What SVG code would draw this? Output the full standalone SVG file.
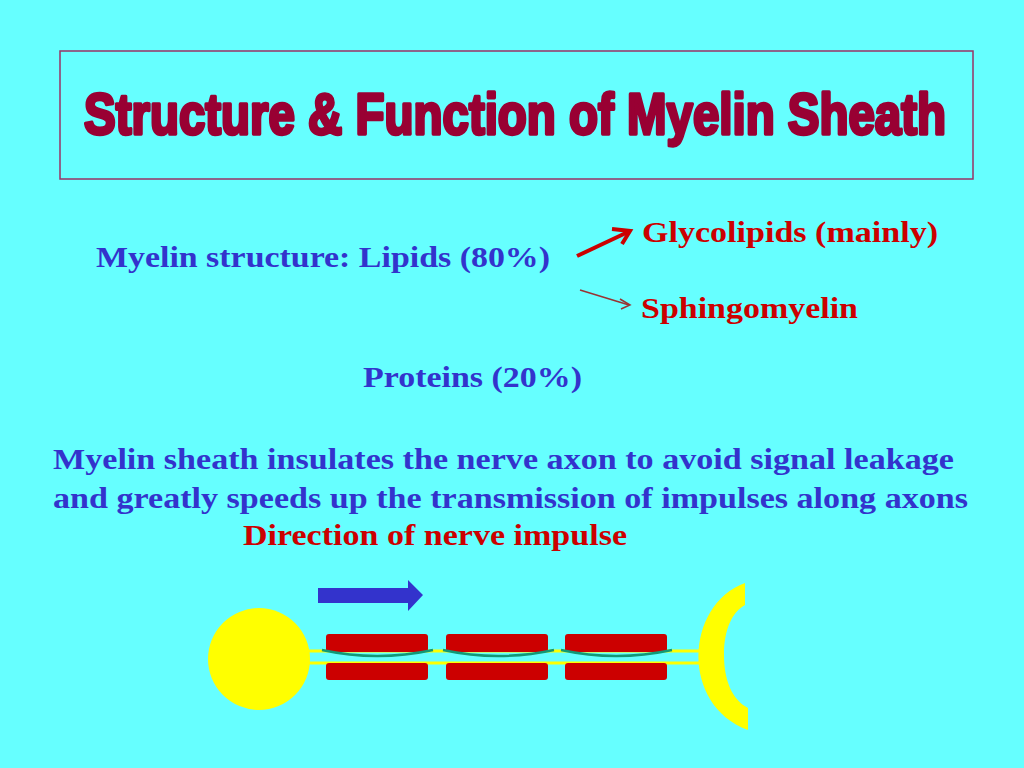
<svg xmlns="http://www.w3.org/2000/svg" width="1024" height="768" viewBox="0 0 1024 768">
<style>
.t{font-family:"Liberation Serif",serif;font-weight:bold;font-size:29px}
.b{fill:#3333cc}.r{fill:#cc0000}
</style>
<rect width="1024" height="768" fill="#66ffff"/>
<g id="title">
<rect x="60" y="51" width="913" height="128" fill="none" stroke="#993366" stroke-width="1.5"/>
<text x="84" y="134" textLength="862" lengthAdjust="spacingAndGlyphs" font-family="Liberation Sans,sans-serif" font-weight="bold" font-size="58" fill="#990033" stroke="#990033" stroke-width="3.5" stroke-linejoin="round">Structure &amp; Function of Myelin Sheath</text>
</g>
<g id="texts">
<text class="t b" x="96" y="267" textLength="454" lengthAdjust="spacingAndGlyphs">Myelin structure: Lipids (80%)</text>
<text class="t r" x="642" y="242" textLength="296" lengthAdjust="spacingAndGlyphs">Glycolipids (mainly)</text>
<text class="t r" x="641" y="318" textLength="217" lengthAdjust="spacingAndGlyphs">Sphingomyelin</text>
<text class="t b" x="363" y="387" textLength="219" lengthAdjust="spacingAndGlyphs">Proteins (20%)</text>
<text class="t b" x="53" y="469" textLength="901" lengthAdjust="spacingAndGlyphs">Myelin sheath insulates the nerve axon to avoid signal leakage</text>
<text class="t b" x="53" y="508" textLength="915" lengthAdjust="spacingAndGlyphs">and greatly speeds up the transmission of impulses along axons</text>
<text class="t r" x="243" y="545" textLength="384" lengthAdjust="spacingAndGlyphs">Direction of nerve impulse</text>
</g>
<g id="connectors">
<line x1="577" y1="256" x2="628" y2="232" stroke="#cc0000" stroke-width="4"/>
<polyline points="612,229 630,231 622,244" fill="none" stroke="#cc0000" stroke-width="4"/>
<line x1="580" y1="290" x2="629" y2="305" stroke="#993333" stroke-width="1.5"/>
<polyline points="620,299 630,305 621,309" fill="none" stroke="#993333" stroke-width="1.5"/>
</g>
<g id="neuron">
<line x1="300" y1="651" x2="705" y2="651" stroke="#ffff00" stroke-width="3"/>
<line x1="300" y1="663" x2="705" y2="663" stroke="#ffff00" stroke-width="3"/>
<ellipse cx="259" cy="659" rx="51" ry="51" fill="#ffff00"/>
<path d="M745,583 C685,605 680,705 748,730 L748,708 C732,700 724,680 724,655 C724,630 732,612 745,605 Z" fill="#ffff00"/>
<g fill="#cc0000">
<rect x="326" y="634" width="102" height="18" rx="3"/><rect x="326" y="663" width="102" height="17" rx="3"/>
<rect x="446" y="634" width="102" height="18" rx="3"/><rect x="446" y="663" width="102" height="17" rx="3"/>
<rect x="565" y="634" width="102" height="18" rx="3"/><rect x="565" y="663" width="102" height="17" rx="3"/>
</g>
<g fill="none" stroke="#119977" stroke-width="2.5">
<path d="M322,650 Q377,662 433,650"/><path d="M443,650 Q498,662 554,650"/><path d="M561,650 Q616,662 672,650"/>
</g>
<polygon points="318,588 408,588 408,580 423,595 408,611 408,603 318,603" fill="#3333cc"/>
</g>
</svg>
